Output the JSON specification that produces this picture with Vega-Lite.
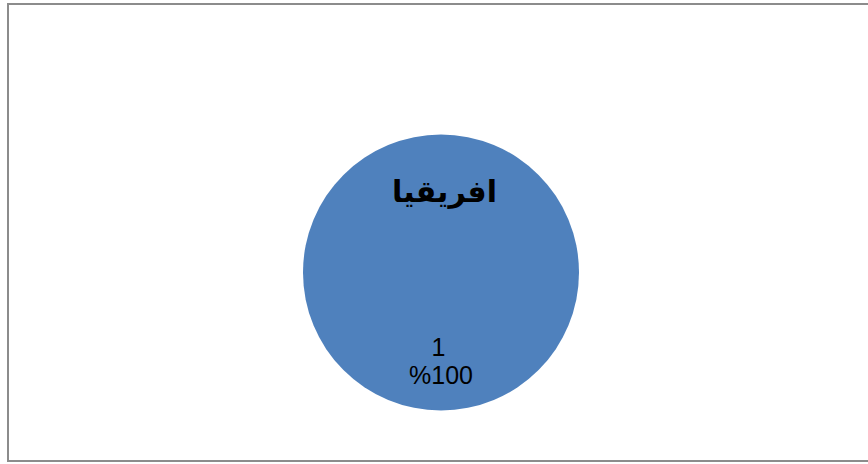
{
  "$schema": "https://vega.github.io/schema/vega-lite/v6.json",
  "width": 868,
  "height": 464,
  "autosize": {"type": "fit", "contains": "padding"},
  "padding": {"left": 7, "top": 3, "right": -2, "bottom": 2},
  "background": "white",
  "config": {"view": {"stroke": null}},
  "data": {"values": [{"region": "افريقيا", "value": 1, "pct": "%100"}]},
  "layer": [
    {
      "mark": {"type": "rect", "fill": "white", "fillOpacity": 0, "stroke": "#8c8c8c", "strokeWidth": 2},
      "encoding": {}
    },
    {
      "mark": {"type": "arc", "outerRadius": 138, "xOffset": 2.5, "yOffset": 40, "color": "#4F81BD"},
      "encoding": {
        "theta": {"field": "value", "type": "quantitative", "stack": true}
      }
    },
    {
      "mark": {"type": "text", "xOffset": 6, "yOffset": -39.5, "font": "DejaVu Sans", "fontWeight": "bold", "fontSize": 30, "baseline": "middle", "align": "center", "color": "black"},
      "encoding": {"text": {"field": "region", "type": "nominal"}}
    },
    {
      "mark": {"type": "text", "xOffset": 0, "yOffset": 115.5, "font": "Liberation Sans", "fontSize": 25, "baseline": "middle", "align": "center", "color": "black"},
      "encoding": {"text": {"field": "value", "type": "quantitative"}}
    },
    {
      "mark": {"type": "text", "xOffset": 2.5, "yOffset": 143.5, "font": "Liberation Sans", "fontSize": 25, "baseline": "middle", "align": "center", "color": "black"},
      "encoding": {"text": {"field": "pct", "type": "nominal"}}
    }
  ]
}
